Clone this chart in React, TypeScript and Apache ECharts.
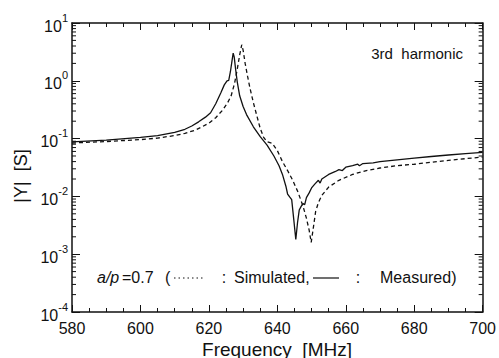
import React, { useEffect, useRef } from "react";
import * as echarts from "echarts";

const measuredFreq = [580, 590, 600, 605, 610, 613, 615, 617, 619, 620.5, 622, 623.5, 624.5, 625.3, 625.8, 626.3, 626.8, 627.1, 627.4, 627.8, 628.3, 629, 630, 631, 633, 635, 637, 639, 640.5, 641.5, 642.5, 643, 643.6, 644.2, 644.8, 645.4, 645.9, 646.4, 647, 647.5, 648, 648.5, 649.3, 650, 651, 652, 652.5, 653, 655, 657, 658, 659, 660, 662, 663.5, 664, 665, 668, 670, 675, 680, 685, 690, 695, 700];
const measuredY = [0.088, 0.094, 0.105, 0.113, 0.128, 0.145, 0.165, 0.195, 0.235, 0.28, 0.4, 0.62, 0.85, 1.0, 1.02, 1.45, 2.3, 3.0, 2.6, 1.6, 0.95, 0.55, 0.36, 0.26, 0.16, 0.108, 0.077, 0.05, 0.034, 0.024, 0.015, 0.011, 0.0098, 0.0088, 0.004, 0.0018, 0.0035, 0.0058, 0.0068, 0.0075, 0.0072, 0.0095, 0.0115, 0.014, 0.0165, 0.019, 0.017, 0.02, 0.024, 0.027, 0.029, 0.028, 0.032, 0.034, 0.036, 0.034, 0.037, 0.038, 0.04, 0.043, 0.046, 0.049, 0.052, 0.055, 0.058];

const simulatedFreq = [580, 590, 600, 605, 610, 613, 616, 618, 620, 622, 624, 625.5, 626.5, 627.5, 628.3, 629, 629.6, 630, 630.6, 631.3, 632, 633, 634, 635, 636, 637, 638.5, 640, 641.5, 643, 644.5, 646, 647.5, 648.5, 649.3, 649.9, 650.5, 651.2, 652, 653, 655, 658, 662, 666, 670, 675, 680, 685, 690, 695, 700];
const simulatedY = [0.084, 0.089, 0.096, 0.102, 0.113, 0.123, 0.14, 0.16, 0.185, 0.23, 0.31, 0.42, 0.55, 0.9, 1.6, 2.8, 4.2, 3.4, 2.0, 1.2, 0.75, 0.42, 0.25, 0.15, 0.105, 0.088, 0.083, 0.062, 0.04, 0.028, 0.019, 0.012, 0.0068, 0.0042, 0.0026, 0.0016, 0.0028, 0.0055, 0.0078, 0.0104, 0.0145, 0.019, 0.024, 0.028, 0.031, 0.034, 0.036, 0.039, 0.042, 0.045, 0.048];

const xMin = 580;
const xMax = 700;
const xInterval = 20;
const yMin = 1e-4;
const yMax = 10;
const minorLogTicks: number[] = [];
for (let e = -4; e < 1; e++) {
  for (let m = 2; m <= 9; m++) minorLogTicks.push(m * Math.pow(10, e));
}

const FONT = "Liberation Sans, Arial, sans-serif";
const INK = "#111";

export default function App() {
  const ref = useRef<HTMLDivElement>(null);
  useEffect(() => {
    if (!ref.current) return;
    const chart = echarts.init(ref.current, undefined, { renderer: "svg" });
    const grid = { left: 72, right: 15, top: 23, bottom: 46 };
    const option: any = {
      animation: false,
      backgroundColor: "#fff",
      textStyle: { fontFamily: FONT },
      grid,
      xAxis: [
        {
          type: "value",
          min: xMin,
          max: xMax,
          interval: xInterval,
          position: "bottom",
          axisLine: { show: true, lineStyle: { color: INK, width: 1.5 } },
          axisTick: { show: true, inside: true, length: 7, lineStyle: { color: INK, width: 1 } },
          minorTick: { show: true, splitNumber: 4, length: 4, lineStyle: { color: INK, width: 1 } },
          axisLabel: { color: INK, fontSize: 16, fontFamily: FONT, margin: 8 },
          splitLine: { show: false },
        },
        {
          type: "value",
          min: xMin,
          max: xMax,
          interval: xInterval,
          position: "top",
          axisLine: { show: true, lineStyle: { color: INK, width: 1.5 } },
          axisTick: { show: true, inside: true, length: 7, lineStyle: { color: INK, width: 1 } },
          minorTick: { show: true, splitNumber: 4, length: 4, lineStyle: { color: INK, width: 1 } },
          axisLabel: { show: false },
          splitLine: { show: false },
        },
      ],
      yAxis: [
        {
          type: "log",
          logBase: 10,
          min: yMin,
          max: yMax,
          position: "left",
          axisLine: { show: true, lineStyle: { color: INK, width: 1.5 } },
          axisTick: { show: true, inside: true, length: 8, lineStyle: { color: INK, width: 1 } },
          axisLabel: {
            margin: 4,
            fontFamily: FONT,
            formatter: (v: number) => {
              const e = Math.round(Math.log10(v));
              return `{a|10}{b|${e}}`;
            },
            rich: {
              a: { fontSize: 16, color: INK, fontFamily: FONT, verticalAlign: "bottom", lineHeight: 22 },
              b: { fontSize: 11, color: INK, fontFamily: FONT, verticalAlign: "top", lineHeight: 12 },
            },
          },
          splitLine: { show: false },
        },
        {
          type: "log",
          logBase: 10,
          min: yMin,
          max: yMax,
          position: "right",
          axisLine: { show: true, lineStyle: { color: INK, width: 1.5 } },
          axisTick: { show: true, inside: true, length: 8, lineStyle: { color: INK, width: 1 } },
          axisLabel: { show: false },
          splitLine: { show: false },
        },
      ],
      series: [
        {
          name: "Simulated",
          type: "line",
          xAxisIndex: 0,
          yAxisIndex: 0,
          showSymbol: false,
          symbol: "none",
          data: simulatedFreq.map((f, i) => [f, simulatedY[i]]),
          lineStyle: { color: INK, width: 1.3, type: [4, 3] },
          z: 3,
        },
        {
          name: "Measured",
          type: "line",
          xAxisIndex: 0,
          yAxisIndex: 0,
          showSymbol: false,
          symbol: "none",
          data: measuredFreq.map((f, i) => [f, measuredY[i]]),
          lineStyle: { color: INK, width: 1.3 },
          z: 4,
        },
        {
          type: "custom",
          xAxisIndex: 0,
          yAxisIndex: 0,
          silent: true,
          clip: false,
          data: minorLogTicks.map((v) => [xMin, v]),
          encode: { x: 0, y: 1 },
          renderItem: (params: any, api: any) => {
            const v = api.value(1);
            const l = api.coord([xMin, v]);
            const r = api.coord([xMax, v]);
            return {
              type: "group",
              children: [
                { type: "line", shape: { x1: l[0], y1: l[1], x2: l[0] + 4, y2: l[1] }, style: { stroke: INK, lineWidth: 1 } },
                { type: "line", shape: { x1: r[0], y1: r[1], x2: r[0] - 4, y2: r[1] }, style: { stroke: INK, lineWidth: 1 } },
              ],
            };
          },
        },
      ],
      graphic: [
        {
          type: "text",
          x: 21,
          y: 176,
          rotation: Math.PI / 2,
          style: { text: "|Y|  [S]", font: `18px ${FONT}`, fill: INK, align: "center", verticalAlign: "middle" },
        },
        {
          type: "text",
          x: 277,
          y: 349,
          style: { text: "Frequency  [MHz]", font: `19px ${FONT}`, fill: INK, align: "center", verticalAlign: "middle" },
        },
        {
          type: "text",
          x: 463,
          y: 53,
          style: { text: "3rd  harmonic", font: `15px ${FONT}`, fill: INK, align: "right", verticalAlign: "middle" },
        },
        {
          type: "text",
          x: 97,
          y: 277,
          style: { text: "a/p", font: `italic 16px ${FONT}`, fill: INK, align: "left", verticalAlign: "middle" },
        },
        {
          type: "text",
          x: 122,
          y: 277,
          style: { text: "=0.7", font: `16px ${FONT}`, fill: INK, align: "left", verticalAlign: "middle" },
        },
        {
          type: "text",
          x: 165,
          y: 277,
          style: { text: "(", font: `16px ${FONT}`, fill: INK, align: "left", verticalAlign: "middle" },
        },
        {
          type: "line",
          shape: { x1: 174, y1: 278, x2: 205, y2: 278 },
          style: { stroke: INK, lineWidth: 1, lineDash: [1.5, 3] },
        },
        {
          type: "text",
          x: 224,
          y: 277,
          style: { text: ":", font: `16px ${FONT}`, fill: INK, align: "center", verticalAlign: "middle" },
        },
        {
          type: "text",
          x: 234,
          y: 277,
          style: { text: "Simulated,", font: `16px ${FONT}`, fill: INK, align: "left", verticalAlign: "middle" },
        },
        {
          type: "line",
          shape: { x1: 313, y1: 278, x2: 339, y2: 278 },
          style: { stroke: INK, lineWidth: 1.2 },
        },
        {
          type: "text",
          x: 358,
          y: 277,
          style: { text: ":", font: `16px ${FONT}`, fill: INK, align: "center", verticalAlign: "middle" },
        },
        {
          type: "text",
          x: 380,
          y: 277,
          style: { text: "Measured)", font: `16px ${FONT}`, fill: INK, align: "left", verticalAlign: "middle" },
        },
      ],
    };
    chart.setOption(option);
    return () => chart.dispose();
  }, []);
  return (
    <div
      ref={ref}
      style={{ position: "fixed", left: 0, top: 0, width: 499, height: 358, background: "#fff" }}
    />
  );
}
